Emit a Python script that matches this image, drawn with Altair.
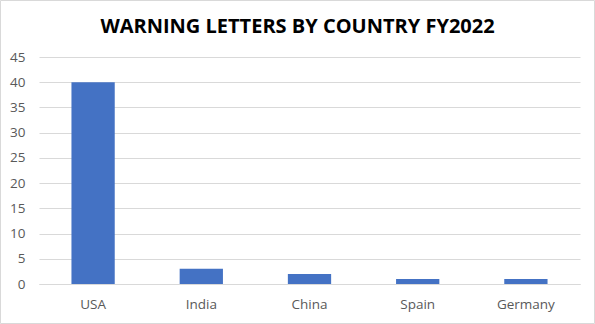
import altair as alt
import pandas as pd

countries = ["USA", "India", "China", "Spain", "Germany"]
letters = [40, 3, 2, 1, 1]
title_text = ["WARNING LETTERS BY COUNTRY FY2022"]

df = pd.DataFrame({"country": countries, "letters": letters})
tdf = pd.DataFrame({"t": title_text})

W, H = 541, 227
LEFT, TOP = 39, 57

bars = alt.Chart(df).mark_bar(color="#4472C4").encode(
    x=alt.X("country:N", sort=countries, title=None,
            scale=alt.Scale(paddingInner=0.6, paddingOuter=0.3),
            axis=alt.Axis(labelAngle=0, labelColor="#595959", labelFontSize=13.5,
                          labelFont="Open Sans", domain=True, domainColor="#d9d9d9",
                          ticks=False, grid=False, labelPadding=13)),
    y=alt.Y("letters:Q", title=None,
            scale=alt.Scale(domain=[0, 45]),
            axis=alt.Axis(values=list(range(0, 50, 5)), labelColor="#595959",
                          labelFontSize=13.5, labelFont="Open Sans", domain=False,
                          ticks=False, labelPadding=14, gridColor="#d9d9d9",
                          gridWidth=1)),
)

title = alt.Chart(tdf).mark_text(font="Open Sans", fontSize=20, fontWeight="bold",
                                 color="#000000", align="center", baseline="middle").encode(
    text="t:N", x=alt.value(595 / 2 - LEFT), y=alt.value(27 - TOP),
)

border = alt.Chart(tdf).mark_rect(fill=None, stroke="#d9d9d9", strokeWidth=1).encode(
    x=alt.value(-LEFT + 0.5), x2=alt.value(594.5 - LEFT),
    y=alt.value(-TOP + 0.5), y2=alt.value(323.5 - TOP),
)

chart = alt.layer(bars, title, border).properties(
    width=W, height=H,
    autosize=alt.AutoSizeParams(type="none"),
    padding={"left": LEFT, "top": TOP, "right": 595 - LEFT - W, "bottom": 324 - TOP - H},
    background="white",
).configure_view(strokeWidth=0, stroke=None)

chart.save("out.html", embed_options={"renderer": "svg", "actions": False})
